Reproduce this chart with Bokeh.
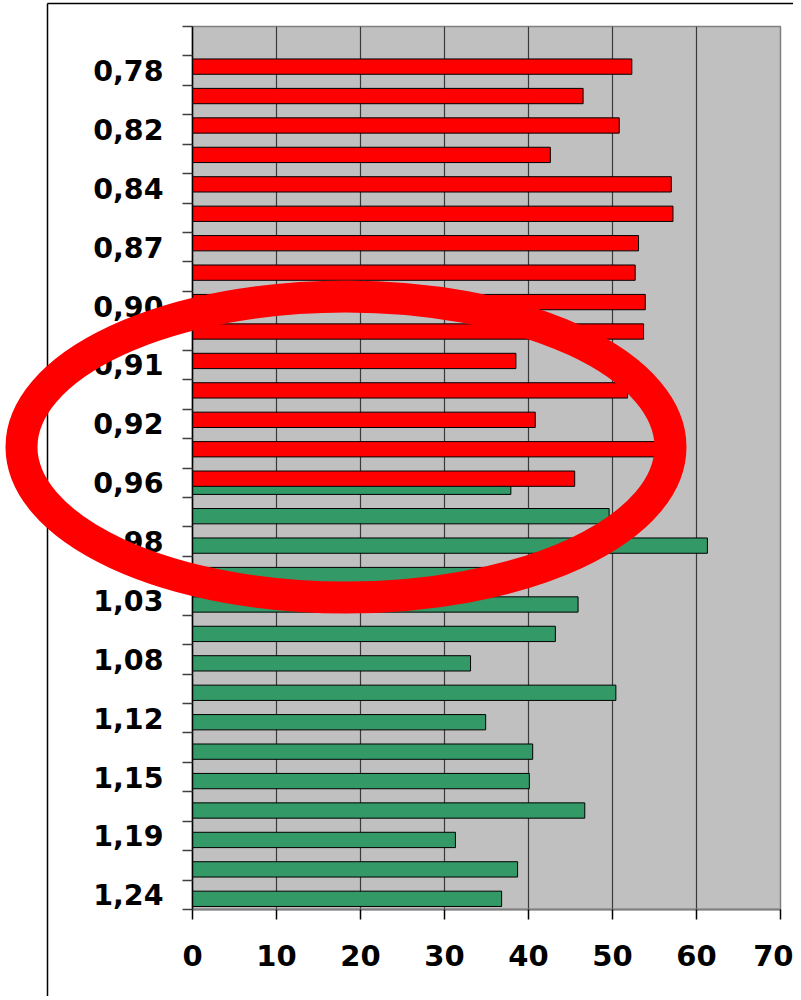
from bokeh.plotting import figure
from bokeh.models import Range1d, FixedTicker, ColumnDataSource
from bokeh.transform import dodge
from bokeh.embed import file_html
from bokeh.resources import INLINE

# ---------------- data ----------------
tick_labels = ["0,78", "0,82", "0,84", "0,87", "0,90", "0,91", "0,92", "0,96",
               "0,98", "1,03", "1,08", "1,12", "1,15", "1,19", "1,24"]
label_idx = [1, 3, 5, 7, 9, 11, 13, 15, 17, 19, 21, 23, 25, 27, 29]
n_categories = 30

red_idx = [1, 2, 3, 4, 5, 6, 7, 8, 9, 10, 11, 12, 13, 14, 15]
red_vals = [52.3, 46.5, 50.8, 42.6, 57.0, 57.2, 53.1, 52.7, 53.9, 53.7,
            38.5, 51.8, 40.8, 56.5, 45.5]

green_idx = [15, 16, 17, 18, 19, 20, 21, 22, 23, 24, 25, 26, 27, 28, 29]
green_vals = [37.9, 49.6, 61.3, 37.0, 45.9, 43.2, 33.1, 50.4, 34.9, 40.5,
              40.1, 46.7, 31.3, 38.7, 36.8]

x_ticks = [0, 10, 20, 30, 40, 50, 60, 70]

# ---------------- layout constants ----------------
W, H = 793, 996
FRAME_L, FRAME_R, FRAME_T, FRAME_B = 192, 780, 26, 909
FONT = "DejaVu Sans"

p = figure(width=W, height=H,
           x_range=Range1d(0, 70), y_range=Range1d(n_categories - 0.5, -0.5),
           output_backend="svg", toolbar_location=None,
           min_border_left=FRAME_L, min_border_right=W - FRAME_R,
           min_border_top=FRAME_T, min_border_bottom=H - FRAME_B,
           background_fill_color="#C0C0C0", border_fill_color="white",
           outline_line_color="#808080", outline_line_width=1.5)
p.styles = {"position": "absolute", "left": "0px", "top": "0px"}

green_src = ColumnDataSource(dict(idx=green_idx, val=green_vals))
red_src = ColumnDataSource(dict(idx=red_idx, val=red_vals))

p.hbar(y=dodge("idx", 0.137, range=p.y_range), left=0, right="val", height=0.52,
       source=green_src, fill_color="#339966", line_color="black", line_width=1)
p.hbar(y=dodge("idx", -0.137, range=p.y_range), left=0, right="val", height=0.52,
       source=red_src, fill_color="#FF0000", line_color="black", line_width=1)

# y axis: labels at every other category, tick marks between categories
yax = p.yaxis[0]
yax.ticker = FixedTicker(ticks=label_idx,
                         minor_ticks=[i - 0.5 for i in range(n_categories + 1)])
yax.major_label_overrides = {i: s for i, s in zip(label_idx, tick_labels)}
yax.major_tick_out = 0
yax.major_tick_in = 0
yax.major_tick_line_color = None
yax.minor_tick_out = 10
yax.minor_tick_in = 0
yax.minor_tick_line_color = "#404040"
yax.minor_tick_line_width = 1.5
yax.axis_line_color = "black"
yax.axis_line_width = 1.5
yax.major_label_text_font = FONT
yax.major_label_text_font_style = "bold"
yax.major_label_text_font_size = "28.5px"
yax.major_label_text_color = "black"
yax.major_label_standoff = 19

# x axis
xax = p.xaxis[0]
xax.ticker = FixedTicker(ticks=x_ticks, minor_ticks=[])
xax.major_tick_out = 10
xax.major_tick_in = 0
xax.major_tick_line_color = "black"
xax.major_tick_line_width = 1.5
xax.axis_line_color = "#808080"
xax.axis_line_width = 2
xax.major_label_text_font = FONT
xax.major_label_text_font_style = "bold"
xax.major_label_text_font_size = "29px"
xax.major_label_text_color = "black"
xax.major_label_standoff = 25

p.ygrid.visible = False
p.xgrid.ticker = FixedTicker(ticks=x_ticks[1:-1])
p.xgrid.grid_line_color = "#3a3a3a"
p.xgrid.grid_line_width = 1.2

# ---------------- overlay: chart border + red highlight ellipse ----------------
p2 = figure(width=W, height=H, x_range=Range1d(0, W), y_range=Range1d(H, 0),
            output_backend="svg", toolbar_location=None,
            x_axis_location=None, y_axis_location=None, min_border=0,
            background_fill_color=None, border_fill_color=None,
            outline_line_color=None)
p2.grid.visible = False
p2.styles = {"position": "absolute", "left": "0px", "top": "0px", "z-index": "2"}

BORDER_X, BORDER_Y = 47, 3
p2.segment(x0=[BORDER_X, BORDER_X], y0=[BORDER_Y, BORDER_Y],
           x1=[BORDER_X, W], y1=[H, BORDER_Y], line_color="black", line_width=1.5)

ELL_CX, ELL_CY, ELL_W, ELL_H = 345.5, 446.5, 649, 301
p2.ellipse(x=[ELL_CX], y=[ELL_CY], width=ELL_W, height=ELL_H,
           fill_color=None, line_color="#FF0000", line_width=32)

open("out.html", "w").write(file_html([p, p2], INLINE))
